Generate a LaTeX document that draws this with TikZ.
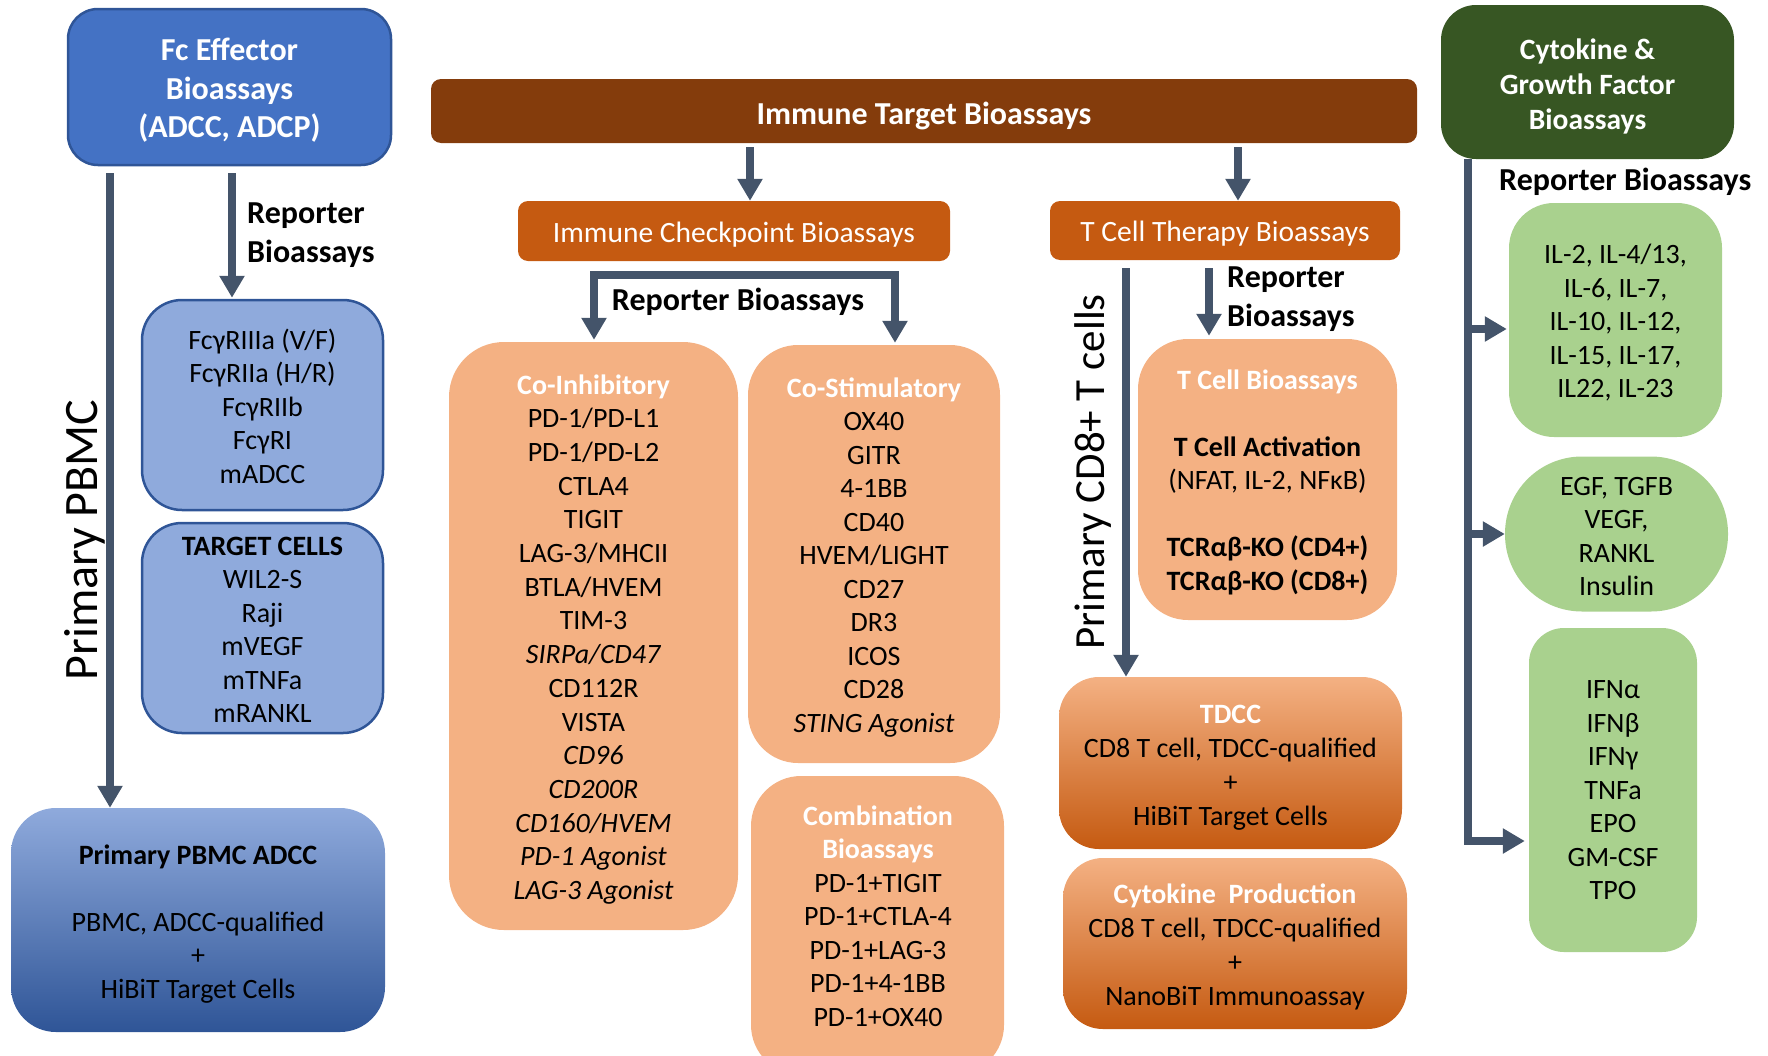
\documentclass[tikz,border=0pt]{standalone}
\usepackage{fontspec}
\setmainfont{Carlito}
\usetikzlibrary{arrows.meta,calc}
\definecolor{arrowc}{HTML}{44546A}
\definecolor{fcblue}{HTML}{4472C4}
\definecolor{fcborder}{HTML}{2F5597}
\definecolor{lblue}{HTML}{8FAADC}
\definecolor{brownc}{HTML}{843C0C}
\definecolor{orangec}{HTML}{C55A11}
\definecolor{orangemid}{HTML}{ED7D31}
\definecolor{peach}{HTML}{F4B183}
\definecolor{dgreen}{HTML}{375623}
\definecolor{lgreen}{HTML}{A9D18E}
\newcommand\myfs[2]{\fontsize{#1}{#2}\selectfont}
\newcommand\wtitle[1]{\textcolor{white}{\textbf{#1}}}
\begin{document}
\begin{tikzpicture}[x=1pt,y=-1pt,
  conn/.style={line width=7.5pt, draw=arrowc, -{Triangle[width=24pt,length=22pt]}},
  lbl/.style={font=\bfseries\myfs{32}{39}, align=left, inner sep=0pt},
  boxs/.style={inner sep=0pt},
  txt/.style={inner sep=0pt, align=center, font=\myfs{28}{33.5}},
]
\useasboundingbox (0,0) rectangle (1768,1055);

% ---------- Fc effector column ----------
\node[boxs, rounded corners=30pt, fill=fcblue, draw=fcborder, line width=2.5pt,
      minimum width=323pt, minimum height=156pt] (fc) at (229.5,87) {};
\node[txt, text=white, font=\bfseries\myfs{32}{38.5}] (fct) at ($(fc)+(0,3.4)$) {Fc Effector\\Bioassays\\(ADCC, ADCP)};
\node[boxs, rounded corners=40pt, fill=lblue, draw=fcborder, line width=2.5pt,
      minimum width=241pt, minimum height=210pt] (fcr) at (262.5,405) {};
\node[txt] (fcrt) at ($(fcr)+(0,1.2)$) {FcγRIIIa (V/F)\\FcγRIIa (H/R)\\FcγRIIb\\FcγRI\\mADCC};
\node[boxs, rounded corners=40pt, fill=lblue, draw=fcborder, line width=2.5pt,
      minimum width=241pt, minimum height=210pt] (tgt) at (262.5,628) {};
\node[txt] (tgtt) at ($(tgt)+(0,1.7)$) {\textbf{TARGET CELLS}\\WIL2-S\\Raji\\mVEGF\\mTNFa\\mRANKL};
\node[boxs, rounded corners=45pt, top color=lblue, middle color=fcblue, bottom color=fcborder,
      minimum width=374pt, minimum height=224pt] (adcc) at (198,920) {};
\node[txt] (adcct) at ($(adcc)+(0,4)$) {\textbf{Primary PBMC ADCC}\\[33.5pt]PBMC, ADCC-qualified\\+\\HiBiT Target Cells};
\coordinate (pbx) at (110,0);
\coordinate (rpx) at (232,0);
\draw[conn] ($(fc.south -| pbx)+(0,7)$) -- (adcc.north -| pbx);
\draw[conn] ($(fc.south -| rpx)+(0,7)$) -- ($(fcr.north -| rpx)+(0,-1)$);
\node[lbl, anchor=west] (rep1) at (247,235.5) {Reporter\\Bioassays};
\node[rotate=90, font=\myfs{48}{50}, inner sep=0pt] (ppbmc) at (85,540) {Primary PBMC};

% ---------- Immune target ----------
\node[boxs, rounded corners=10pt, fill=brownc, minimum width=986pt, minimum height=64pt] (itb) at (924,111) {};
\node[txt, text=white, font=\bfseries\myfs{32}{36}] (itbt) at ($(itb)+(0,4.5)$) {Immune Target Bioassays};
\node[boxs, rounded corners=10pt, fill=orangec, minimum width=432pt, minimum height=60pt] (icb) at (734,231) {};
\node[txt, text=white, font=\myfs{29.5}{34}] (icbt) at ($(icb)+(0,3.4)$) {Immune Checkpoint Bioassays};
\node[boxs, rounded corners=10pt, fill=orangec, minimum width=350pt, minimum height=59pt] (tct) at (1225,230.5) {};
\node[txt, text=white, font=\myfs{29.5}{34}] (tctt) at ($(tct)+(0,3.4)$) {T Cell Therapy Bioassays};
\coordinate (a1) at (750,0);
\coordinate (a2) at (1238,0);
\draw[conn] ($(itb.south -| a1)+(0,4)$) -- (icb.north -| a1);
\draw[conn] ($(itb.south -| a2)+(0,4)$) -- (tct.north -| a2);

\node[boxs, rounded corners=55pt, fill=peach, minimum width=289pt, minimum height=588pt] (coinh) at (593.5,636) {};
\node[txt, font=\myfs{28}{33.7}] (coinht) at ($(coinh)+(0,3.4)$)
  {\wtitle{Co-Inhibitory}\\PD-1/PD-L1\\PD-1/PD-L2\\CTLA4\\TIGIT\\LAG-3/MHCII\\BTLA/HVEM\\TIM-3\\
   \textit{SIRPa/CD47}\\CD112R\\VISTA\\\textit{CD96}\\\textit{CD200R}\\\textit{CD160/HVEM}\\
   \textit{PD-1 Agonist}\\\textit{LAG-3 Agonist}};
\node[boxs, rounded corners=50pt, fill=peach, minimum width=252pt, minimum height=418pt] (costim) at (874,554) {};
\node[txt] (costimt) at ($(costim)+(0,3.4)$)
  {\wtitle{Co-Stimulatory}\\OX40\\GITR\\4-1BB\\CD40\\HVEM/LIGHT\\CD27\\DR3\\ICOS\\CD28\\\textit{STING Agonist}};
\node[boxs, rounded corners=50pt, fill=peach, minimum width=253pt, minimum height=299pt] (comb) at (877.5,925.5) {};
\node[txt] (combt) at (878,916)
  {\wtitle{Combination}\\\wtitle{Bioassays}\\PD-1+TIGIT\\PD-1+CTLA-4\\PD-1+LAG-3\\PD-1+4-1BB\\PD-1+OX40};
\coordinate (brL) at (594,275);
\coordinate (brR) at (895,275);
\draw[conn, {Triangle[width=24pt,length=22pt]}-{Triangle[width=24pt,length=22pt]}]
  ($(coinh.north -| brL)+(0,-2)$) -- (brL) -- (brR) -- ($(costim.north -| brR)+(0,-2)$);
\node[font=\bfseries\myfs{32}{34}, inner sep=0pt] (rep2) at (738,302) {Reporter Bioassays};

% ---------- T cell therapy ----------
\node[boxs, rounded corners=50pt, fill=peach, minimum width=259pt, minimum height=281pt] (tcb) at (1267.5,479.5) {};
\node[txt] (tcbt) at ($(tcb)+(0,2.8)$)
  {\wtitle{T Cell Bioassays}\\[33.5pt]\textbf{T Cell Activation}\\(NFAT, IL-2, NFκB)\\[33.5pt]
   \textbf{TCRαβ-KO (CD4+)}\\\textbf{TCRαβ-KO (CD8+)}};
\node[boxs, rounded corners=40pt, top color=peach, middle color=orangemid, bottom color=orangec,
      minimum width=343pt, minimum height=172pt] (tdcc) at (1230.5,763) {};
\node[txt, font=\myfs{28}{34}] (tdcct) at ($(tdcc)+(0,4.5)$)
  {\wtitle{TDCC}\\CD8 T cell, TDCC-qualified\\+\\HiBiT Target Cells};
\node[boxs, rounded corners=40pt, top color=peach, middle color=orangemid, bottom color=orangec,
      minimum width=344pt, minimum height=171pt] (cprod) at (1235,943.5) {};
\node[txt, font=\myfs{28}{34}] (cprodt) at ($(cprod)+(0,3.4)$)
  {\wtitle{Cytokine\ \ Production}\\CD8 T cell, TDCC-qualified\\+\\NanoBiT Immunoassay};
\coordinate (cdx) at (1126,0);
\coordinate (rtx) at (1209,0);
\draw[conn] ($(tct.south -| cdx)+(0,8)$) -- (tdcc.north -| cdx);
\draw[conn] ($(tct.south -| rtx)+(0,8)$) -- ($(tcb.north -| rtx)+(0,-3)$);
\node[lbl, anchor=west] (rep3) at (1227,299) {Reporter\\Bioassays};
\node[rotate=90, font=\myfs{43}{46}, inner sep=0pt] (pcd8) at (1093,472) {Primary CD8+ T cells};

% ---------- Cytokine & growth factor ----------
\node[boxs, rounded corners=35pt, fill=dgreen, minimum width=293pt, minimum height=154pt] (cgf) at (1587.5,82) {};
\node[txt, text=white, font=\bfseries\myfs{29.5}{35}] (cgft) at ($(cgf)+(0,4)$) {Cytokine \&\\Growth Factor\\Bioassays};
\node[font=\bfseries\myfs{32}{34}, anchor=west, inner sep=0pt] (rep4) at (1499,182) {Reporter Bioassays};
\node[boxs, rounded corners=45pt, fill=lgreen, minimum width=213pt, minimum height=234pt] (il) at (1615.5,320) {};
\node[txt] (ilt) at ($(il)+(0,2.8)$) {IL-2, IL-4/13,\\IL-6, IL-7,\\IL-10, IL-12,\\IL-15, IL-17,\\IL22, IL-23};
\node[boxs, rounded corners=77pt, fill=lgreen, minimum width=223pt, minimum height=155pt] (egf) at (1616.5,534) {};
\node[txt] (egft) at ($(egf)+(0,2.6)$) {EGF, TGFB\\VEGF,\\RANKL\\Insulin};
\node[boxs, rounded corners=35pt, fill=lgreen, minimum width=168pt, minimum height=324pt] (ifn) at (1613,790) {};
\node[txt] (ifnt) at ($(ifn)+(0,0.5)$) {IFNα\\IFNβ\\IFNγ\\TNFa\\EPO\\GM-CSF\\TPO};
\coordinate (gx) at (1468,0);
\coordinate (g1) at (1468,329);
\coordinate (g2) at (1468,534);
\coordinate (g3) at (1468,841);
\draw[conn] (cgf.south -| gx) -- (g3) -- ($(g3 -| ifn.west)+(-4,0)$);
\draw[conn] (g1) -- ($(g1 -| il.west)+(-2,0)$);
\draw[conn] (g2) -- (g2 -| egf.west);
\end{tikzpicture}
\end{document}
